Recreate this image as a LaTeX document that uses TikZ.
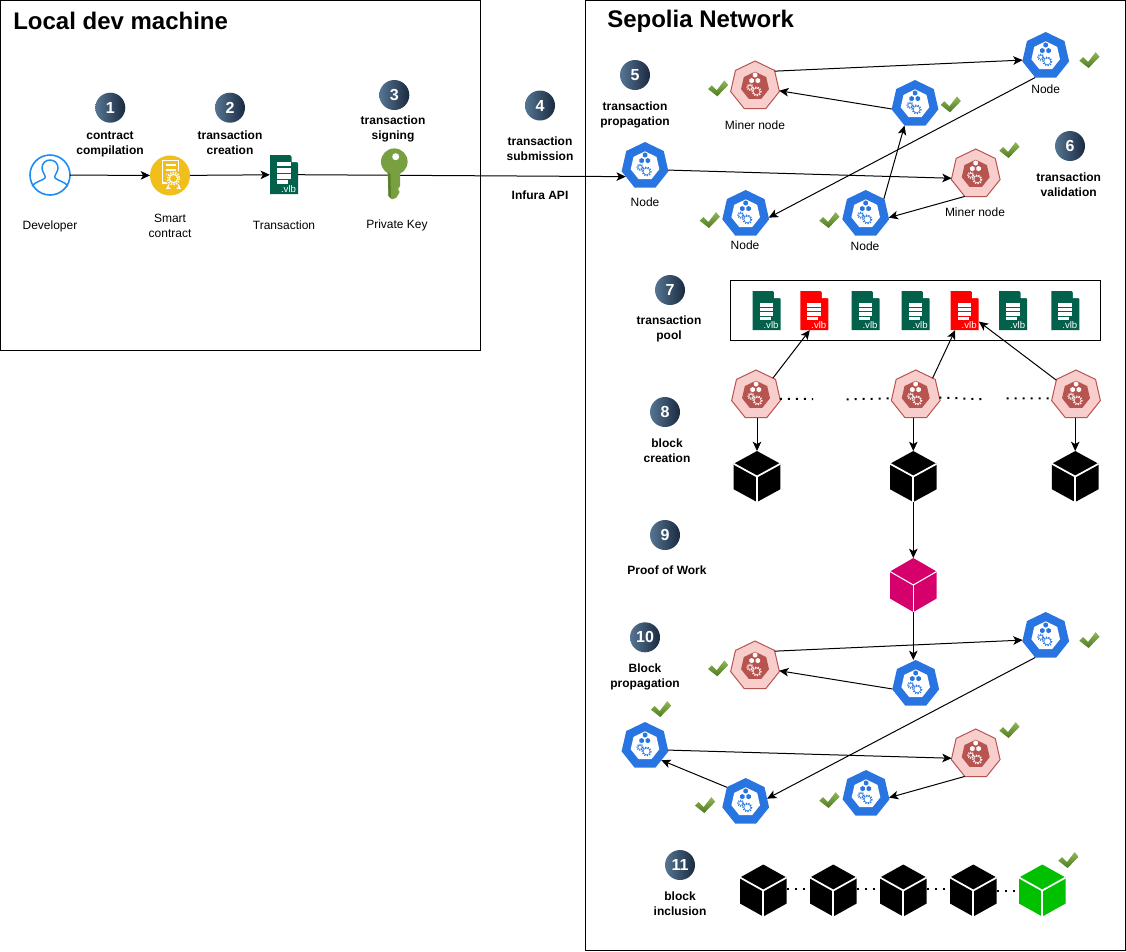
\documentclass[tikz,border=0pt]{standalone}
\usepackage{fontspec}
\setmainfont{Liberation Sans}
\usetikzlibrary{arrows.meta,shapes.geometric,calc}
\definecolor{kblue}{HTML}{2875E2}
\definecolor{mfill}{HTML}{F8CECC}
\definecolor{mdark}{HTML}{B85450}
\definecolor{filegreen}{HTML}{03614B}
\definecolor{filered}{HTML}{FF0000}
\definecolor{userblue}{HTML}{1E8CF0}
\definecolor{gold}{HTML}{F0BF1C}
\definecolor{keygreen}{HTML}{78A040}
\definecolor{keydark}{HTML}{5B7F2C}
\definecolor{pow}{HTML}{D6006C}
\definecolor{okgreen}{HTML}{00C000}
\definecolor{numa}{HTML}{567592}
\definecolor{numb}{HTML}{1A2A40}
\definecolor{cka}{HTML}{93B858}
\definecolor{ckb}{HTML}{4C7A1E}
\tikzset{
  frame/.style={draw=black,line width=.75pt,fill=none},
  conn/.style={draw=black,line width=.75pt,-{Stealth[length=7pt,width=6.4pt,inset=1.8pt]}},
  dots/.style={draw=black,line width=1.5pt,dash pattern=on 1.5pt off 4.5pt},
  ttl/.style={font=\bfseries\fontsize{18}{22}\selectfont,anchor=west,inner sep=0pt},
  capt/.style={font=\bfseries\fontsize{9}{11.25}\selectfont,align=center,inner sep=0pt},
  lbl/.style={font=\fontsize{9}{11.25}\selectfont,align=center,inner sep=0pt},
  numdot/.style={circle,inner sep=0pt,minimum size=22.5pt,left color=numa,right color=numb,text=white,font=\bfseries\fontsize{12}{12}\selectfont},
  hepta/.style={regular polygon,regular polygon sides=7,inner sep=0pt,outer sep=0pt},
  kb/.style={hepta,fill=kblue,minimum size=36pt},
  kbi/.style={hepta,fill=white,minimum size=22pt},
  km/.style={hepta,fill=mfill,draw=mdark,line width=.75pt,minimum size=37.5pt},
  kmi/.style={hepta,fill=mdark,minimum size=21.5pt},
  filebox/.style={rectangle,minimum width=21.2pt,minimum height=29.4pt,inner sep=0pt,outer sep=0pt},
  cubebox/.style={rectangle,minimum width=34.8pt,inner sep=0pt,outer sep=0pt},
}
\newcommand\hexa[4]{\fill[#1] (#2,#3) +(90:#4) -- +(30:#4) -- +(-30:#4) -- +(-90:#4) -- +(-150:#4) -- +(150:#4) -- cycle;}
\newcommand\geartiny[1]{%
  \hexa{#1}{0}{-11}{2.6}\hexa{#1}{-3.4}{-5.4}{2.6}\hexa{#1}{2.8}{-5.4}{2.6}
  \draw[#1,line width=.35pt] (-5,1.2) circle[radius=2];
  \draw[#1,line width=.9pt,dash pattern=on .8pt off .8pt] (-5,1.2) circle[radius=2.9];
  \draw[#1,line width=.4pt] (1.6,5.4) circle[radius=3.4];
  \draw[#1,line width=1pt,dash pattern=on .9pt off 1.1pt] (1.6,5.4) circle[radius=4.4];
}
\newcommand\bluenode[3]{%
  \node[kb] (#1) at (#2,#3) {};
  \node[kbi] (#1in) at (#2,#3) {};
  \begin{scope}[shift={(#2,#3)}]\geartiny{kblue}\end{scope}}
\newcommand\minernode[3]{%
  \node[km] (#1) at (#2,#3) {};
  \node[kmi] (#1in) at (#2,#3) {};
  \begin{scope}[shift={(#2,#3)}]\geartiny{white}\end{scope}}
\newcommand\vlbfile[5][]{%
  \node[filebox] (#2) at (#3,#4) {};
  \begin{scope}[shift={(#3,#4)}]
    \fill[#5] (-14,-19.5) -- (6,-19.5) -- (14,-11.5) -- (14,19.5) -- (-14,19.5) -- cycle;
    \fill[white] (7.5,-19.5) -- (14,-12.5) -- (7.5,-12.5) -- cycle;
    \begin{scope}[#1]
    \fill[white] (-7,-7.5) rectangle (6.5,-4);
    \fill[white] (-7,-2.8) rectangle (6.5,.7);
    \fill[white] (-7,1.9) rectangle (6.5,5.4);
    \fill[white] (-7,6.6) rectangle (4,9.2);
    \end{scope}
    \node[text=white,inner sep=0pt,font=\fontsize{7.2}{8}\selectfont] (#2txt) at (4.5,14.2) {.vlb};
  \end{scope}}
\newcommand\cubeicon[6]{%
  \node[cubebox,minimum height=#4*1.5pt] (#1) at (#2,#3) {};
  \begin{scope}[shift={(#2,#3)}]
    \fill[#5] (0,-#4) -- (23.3,-#4/2) -- (23.3,#4/2) -- (0,#4) -- (-23.3,#4/2) -- (-23.3,-#4/2) -- cycle;
    \draw[white,line width=#6] (-23.3,-#4/2) -- (0,0) -- (23.3,-#4/2);
    \draw[white,line width=#6] (0,0) -- (0,#4);
  \end{scope}}
\newcommand\okmark[2]{%
  \begin{scope}[shift={(#1,#2)}]
    \shade[top color=cka,bottom color=ckb] (-10,.7) -- (-6.3,-3) -- (-1.3,2) -- (6.3,-7.9) -- (10.2,-3.3) -- (-.7,8) -- cycle;
  \end{scope}}
\begin{document}
\begin{tikzpicture}[x=.75pt,y=-.75pt]
\useasboundingbox (0,0) rectangle (1126,951);
\fill[white] (0,0) rectangle (1126,951);
\draw[frame] (.5,.5) rectangle (480.5,350);
\draw[frame] (585.5,.5) rectangle (1125.5,950);
\node[ttl] (titleA) at (13,21) {Local dev machine};
\node[ttl] (titleB) at (607,21) {Sepolia Network};
% numbers
\node[numdot] (n1) at (110.3,107.7) {1};
\node[numdot] (n2) at (230,107.7) {2};
\node[numdot] (n3) at (394.3,95) {3};
\node[numdot] (n4) at (540,105.5) {4};
\node[numdot] (n5) at (635,75) {5};
\node[numdot] (n6) at (1070,146) {6};
\node[numdot] (n7) at (670,290) {7};
\node[numdot] (n8) at (665,412) {8};
\node[numdot] (n9) at (665,535) {9};
\node[numdot] (n10) at (645,637.3) {10};
\node[numdot] (n11) at (680,865) {11};
% captions
\node[capt] (c1) at (110,144.5) {contract\\compilation};
\node[capt] (c2) at (230,142.5) {transaction\\creation};
\node[capt] (c3) at (393,128.5) {transaction\\signing};
\node[capt] (c4) at (540,148.5) {transaction\\submission};
\node[capt] (c4b) at (540,195) {Infura API};
\node[capt] (c5) at (635,114.5) {transaction\\propagation};
\node[capt] (c6) at (1068.7,184.5) {transaction\\validation};
\node[capt] (c7) at (669,328.5) {transaction\\pool};
\node[capt] (c8) at (667,450.5) {block\\creation};
\node[capt] (c9) at (667,570) {Proof of Work};
\node[capt] (c10) at (645,676.5) {Block\\propagation};
\node[capt] (c11) at (680,903.5) {block\\inclusion};
% left icons
\node[circle,draw=userblue,line width=1.2pt,minimum size=30pt,inner sep=0pt,outer sep=0pt] (dev) at (50,175) {};
\draw[userblue,line width=1.1pt,line join=round] (32,186) .. controls (36,181) and (42,181) .. (45,178) .. controls (46,176) and (43,173) .. (42,169) .. controls (41,157) and (59,157) .. (58,169) .. controls (57,173) and (54,176) .. (55,178) .. controls (58,181) and (64,181) .. (68,186);
\node[circle,fill=gold,minimum size=30pt,inner sep=0pt,outer sep=0pt] (sc) at (170,175.5) {};
\draw[white,line width=.9pt] (170,183) -- (162.3,183) -- (162.3,160.5) -- (178.5,160.5) -- (178.5,171);
\draw[white,line width=.9pt] (165.5,165) -- (175.5,165) (165.5,170) -- (175.5,170) (165.5,174.5) -- (169,174.5);
\fill[gold] (173.5,178.5) circle[radius=7.8];
\draw[white,line width=.8pt] (173.5,178.5) circle[radius=4.2];
\draw[white,line width=1.3pt,dash pattern=on 1pt off 1pt] (173.5,178.5) circle[radius=5.9];
\draw[white,line width=.9pt] (169,184.5) -- (167,188.5) -- (170.5,188) (178,184.5) -- (180,188.5) -- (176.5,188);
\vlbfile[yshift=2.25pt,yscale=1.32]{tx}{284}{174.7}{filegreen}
\node[lbl] (ldev) at (50,226) {Developer};
\node[lbl] (lsc) at (170,225.5) {Smart\\contract};
\node[lbl] (ltx) at (284,225) {Transaction};
\node[lbl] (lkey) at (397,225) {Private Key};
% top network
\minernode{A}{755}{86}
\bluenode{B}{1045.7}{56}
\bluenode{Cn}{915}{104}
\minernode{D}{975.7}{174}
\bluenode{E}{645}{166}
\bluenode{F}{745.7}{214}
\bluenode{G}{865.7}{214}
\node[lbl] (lA) at (755,125) {Miner node};
\node[lbl] (lB) at (1045.7,89) {Node};
\node[lbl] (lD) at (975,212) {Miner node};
\node[lbl] (lE) at (645,202.5) {Node};
\node[lbl] (lF) at (745,245) {Node};
\node[lbl] (lG) at (865,246) {Node};
\draw[conn] (dev) -- (sc);
\draw[conn] (sc) -- (tx);
\draw[conn] (tx.east) -- (E.209);
\draw[conn] (A.37) -- (B.190);
\draw[conn] (Cn.192) -- (A.349);
\draw[conn] (B.244) -- (F.351);
\draw[conn] (G.40) -- (Cn.244);
\draw[conn] (E.-10) -- (D.190);
\draw[conn] (D.244) -- (G.351);
\okmark{718}{88.3}\okmark{709.7}{220}\okmark{829.3}{220}\okmark{950.7}{104.3}\okmark{1089.3}{60}\okmark{1009.3}{150}
% key
\fill[keygreen] (394.3,161.7) circle[radius=13.3];
\fill[keygreen] (387.7,165) -- (400,165) -- (400,186) -- (398,189) -- (399.5,192) -- (398,195) -- (396,198) -- (392,199.3) -- (388.5,196) -- cycle;
\fill[keydark] (387.7,172) -- (390.5,174) -- (391,198.5) -- (388.5,196) -- cycle;
\fill[white] (395.7,156.7) circle[radius=3.5];
% pool
\draw[frame] (730.5,280.5) rectangle (1100.5,340.5);
\vlbfile{p1}{766.5}{310.5}{filegreen}
\vlbfile{p2}{814.3}{310.5}{filered}
\vlbfile{p3}{865.5}{310.5}{filegreen}
\vlbfile{p4}{915.7}{310.5}{filegreen}
\vlbfile{p5}{964.7}{310.5}{filered}
\vlbfile{p6}{1013.2}{310.5}{filegreen}
\vlbfile{p7}{1065.3}{310.5}{filegreen}
% miners
\minernode{m1}{756}{395}
\minernode{m2}{915.7}{395}
\minernode{m3}{1076}{395}
\cubeicon{k1}{757}{476.5}{25.5}{black}{1.3pt}
\cubeicon{k2}{913.3}{476.5}{25.5}{black}{1.3pt}
\cubeicon{k3}{1075.2}{476.5}{25.5}{black}{1.3pt}
\coordinate (d1) at (813,399);
\coordinate (d2) at (846.7,399.3);
\coordinate (d3) at (983,399.3);
\coordinate (d4) at (1006.7,398.3);
\draw[dots] (m1.-9) -- (d1);
\draw[dots] (d2) -- (m2.188);
\draw[dots] (m2.-6) -- (d3);
\draw[dots] (d4) -- (m3.188);
\draw[conn] (m1.45) -- (p2.257);
\draw[conn] (m2.45) -- (p5.244);
\draw[conn] (m3.143) -- (p5.-38);
\draw[conn] (k1.north |- m1.south) -- (k1.north);
\draw[conn] (k2.north |- m2.south) -- (k2.north);
\draw[conn] (k3.north |- m3.south) -- (k3.north);
% proof of work
\cubeicon{pw}{913.3}{585}{27}{pow}{.8pt}
\draw[conn] (k2.south) -- (pw.north);
% lower network
\minernode{A2}{755}{666}
\bluenode{B2}{1045.7}{636}
\bluenode{C2}{915.7}{684}
\minernode{D2}{975.7}{754}
\bluenode{E2}{645}{746}
\bluenode{F2}{745.7}{802}
\bluenode{G2}{866}{794}
\draw[conn] (pw.south) -- (pw.south |- C2.north);
\draw[conn] (A2.37) -- (B2.190);
\draw[conn] (C2.192) -- (A2.349);
\draw[conn] (B2.244) -- (F2.9);
\draw[conn] (E2.-10) -- (D2.190);
\draw[conn] (D2.244) -- (G2.351);
\draw[conn] (F2.142) -- (E2.319);
\okmark{718}{668.3}\okmark{661}{709}\okmark{705}{805}\okmark{829.3}{800}\okmark{1089.3}{640}\okmark{1009.3}{730}
% chain
\cubeicon{b1}{763.3}{890.5}{26}{black}{1.3pt}
\cubeicon{b2}{833.3}{890.5}{26}{black}{1.3pt}
\cubeicon{b3}{903.3}{890.5}{26}{black}{1.3pt}
\cubeicon{b4}{973.3}{890.5}{26}{black}{1.3pt}
\cubeicon{b5}{1042.3}{890.5}{26}{okgreen}{1.3pt}
\draw[dots] (b1.3) -- (b2.177);
\draw[dots] (b2.3) -- (b3.177);
\draw[dots] (b3.3) -- (b4.177);
\draw[dots] (b4.0) -- (b5.180);
\okmark{1068.3}{860}
\end{tikzpicture}
\end{document}
